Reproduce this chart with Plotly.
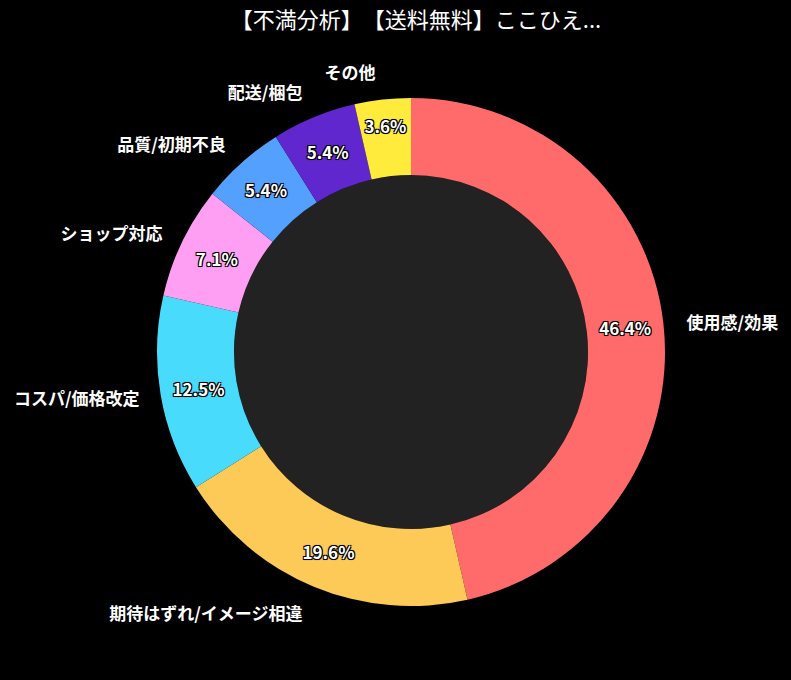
import plotly.graph_objects as go

categories = ["使用感/効果", "期待はずれ/イメージ相違", "コスパ/価格改定", "ショップ対応",
              "品質/初期不良", "配送/梱包", "その他"]
counts = [26, 11, 7, 4, 3, 3, 2]
colors = ["#ff6b6b", "#feca57", "#48dbfb", "#ff9ff3", "#54a0ff", "#5f27cd", "#ffeb3b"]
title_text = "【不満分析】\u200b【送料無料】ここひえ..."

W, H = 791, 680
cx, cy = 411, 352
R_in, R_lab = 254, 270
hole_r = 177

def dom(r, x0=cx, y0=cy):
    return dict(x=[(x0 - r) / W, (x0 + r) / W], y=[(H - y0 - r) / H, (H - y0 + r) / H])

FONT = "Noto Sans CJK JP"
shadow = "-1px -1px 0 #000, 1px -1px 0 #000, -1px 1px 0 #000, 1px 1px 0 #000, 0 0 2px #000"

fig = go.Figure()
fig.add_trace(go.Pie(
    labels=categories, values=counts, sort=False, direction="clockwise", rotation=0,
    hole=hole_r / R_in, domain=dom(R_in),
    marker=dict(colors=colors, line=dict(width=0)),
    textinfo="percent", texttemplate="%{percent:.1%}", textposition="inside",
    insidetextorientation="horizontal",
    textfont=dict(family=FONT, size=17, color="white", weight="bold", shadow=shadow),
    showlegend=False, hoverinfo="label+percent",
))
# outside labels: split into two transparent traces so that label collision
# avoidance does not push labels and draw connector lines
last = len(categories) - 1
groups = [[i for i in range(len(categories)) if i != last], [last]]
for g in groups:
    fig.add_trace(go.Pie(
        labels=categories, values=counts, sort=False, direction="clockwise", rotation=0,
        hole=0.95, domain=dom(R_lab, cx + 1, cy),
        marker=dict(colors=["rgba(0,0,0,0)"] * len(categories), line=dict(width=0)),
        text=[categories[i] if i in g else "" for i in range(len(categories))],
        texttemplate="%{text}", textposition="outside",
        textfont=dict(family=FONT, size=17, color="white", weight="bold"),
        showlegend=False, hoverinfo="skip",
    ))
fig.update_layout(
    width=W, height=H,
    paper_bgcolor="#000000", plot_bgcolor="#000000",
    margin=dict(l=0, r=0, t=0, b=0),
    title=dict(text=title_text, x=416 / W, xanchor="center", y=1 - 20 / H, yanchor="middle",
               yref="container", xref="container",
               font=dict(family=FONT, size=22, color="white")),
    shapes=[dict(type="circle", xref="paper", yref="paper", layer="below",
                 x0=(cx - hole_r) / W, x1=(cx + hole_r) / W,
                 y0=(H - cy - hole_r) / H, y1=(H - cy + hole_r) / H,
                 fillcolor="#222222", line=dict(width=0))],
)
fig.write_html("out.html")
